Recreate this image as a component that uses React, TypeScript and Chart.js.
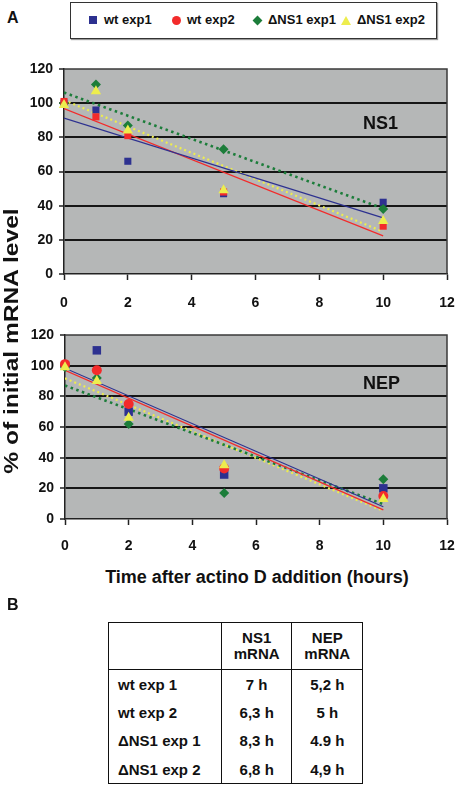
import React, { useEffect, useRef } from "react";
import { Chart, registerables } from "chart.js";

Chart.register(...registerables);

const FONT = "'Liberation Sans', Arial, Helvetica, sans-serif";

// ---- data ----
const hours = [0, 1, 2, 5, 10];
const seriesLabels = ["wt exp1", "wt exp2", "ΔNS1 exp1", "ΔNS1 exp2"];
const seriesColors = ["#2d3190", "#f32b2b", "#1c7d3a", "#eded4e"];

const ns1WtExp1 = [100, 96, 66, 47, 42];
const ns1WtExp2 = [101, 92, 81, 48, 28];
const ns1DeltaExp1 = [100, 111, 87, 73, 38];
const ns1DeltaExp2 = [99, 107, 84, 49, 31];

const nepWtExp1 = [100, 110, 70, 29, 20];
const nepWtExp2 = [101, 97, 75, 33, 15];
const nepDeltaExp1 = [99, 92, 62, 17, 26];
const nepDeltaExp2 = [99, 90, 66, 35, 13];

const xMin = 0;
const xMax = 12;
const xStep = 2;
const yMin = 0;
const yMax = 120;
const yStep = 20;

const tableHeaders = ["NS1\nmRNA", "NEP\nmRNA"];
const tableRowLabels = ["wt exp 1", "wt exp 2", "ΔNS1 exp 1", "ΔNS1 exp 2"];
const ns1HalfLives = ["7 h", "6,3 h", "8,3 h", "6,8 h"];
const nepHalfLives = ["5,2 h", "5 h", "4.9 h", "4,9 h"];

function linearFit(xs: number[], ys: number[]) {
  const n = xs.length;
  const mx = xs.reduce((a, b) => a + b, 0) / n;
  const my = ys.reduce((a, b) => a + b, 0) / n;
  let sxy = 0;
  let sxx = 0;
  for (let i = 0; i < n; i++) {
    sxy += (xs[i] - mx) * (ys[i] - my);
    sxx += (xs[i] - mx) * (xs[i] - mx);
  }
  const slope = sxy / sxx;
  const intercept = my - slope * mx;
  const x0 = Math.min(...xs);
  const x1 = Math.max(...xs);
  return [
    { x: x0, y: intercept + slope * x0 },
    { x: x1, y: intercept + slope * x1 },
  ];
}

const plotFrame = {
  id: "plotFrame",
  beforeDraw(chart: any) {
    const { ctx, chartArea } = chart;
    const { left, top, right, bottom } = chartArea;
    ctx.save();
    ctx.fillStyle = "#b5b7b7";
    ctx.fillRect(left, top, right - left, bottom - top);
    ctx.restore();
  },
  afterDatasetsDraw(chart: any) {
    const { ctx, chartArea } = chart;
    const { left, top, right, bottom } = chartArea;
    ctx.save();
    ctx.strokeStyle = "#3a3a3a";
    ctx.lineWidth = 1.5;
    ctx.beginPath();
    ctx.moveTo(left, top);
    ctx.lineTo(right, top);
    ctx.lineTo(right, bottom);
    ctx.stroke();
    ctx.restore();
  },
};

type PanelProps = {
  series: number[][];
  pointStyles: string[];
  pointRadii: number[];
  top: number;
  height: number;
  padTop: number;
  padRight: number;
  yWidth: number;
  xHeight: number;
  xLabelPad: number;
};

function Panel(props: PanelProps) {
  const ref = useRef<HTMLCanvasElement | null>(null);
  useEffect(() => {
    if (!ref.current) return;
    const trendStyles = [
      { dash: [], width: 1.2 },
      { dash: [], width: 1.2 },
      { dash: [2.5, 3.5], width: 2.6 },
      { dash: [2, 3], width: 2.2 },
    ];
    const markerOrder = [4, 2, 3, 1];
    const datasets: any[] = [];
    props.series.forEach((ys, i) => {
      datasets.push({
        type: "line",
        label: seriesLabels[i] + " trend",
        data: linearFit(hours, ys),
        borderColor: seriesColors[i],
        borderWidth: trendStyles[i].width,
        borderDash: trendStyles[i].dash,
        borderCapStyle: "butt",
        pointRadius: 0,
        fill: false,
        order: 10 + i,
      });
    });
    props.series.forEach((ys, i) => {
      datasets.push({
        type: "scatter",
        label: seriesLabels[i],
        data: hours.map((h, k) => ({ x: h, y: ys[k] })),
        backgroundColor: seriesColors[i],
        borderColor: seriesColors[i],
        borderWidth: 0,
        pointStyle: props.pointStyles[i],
        pointRadius: props.pointRadii[i],
        order: markerOrder[i],
        clip: false,
      });
    });
    const tickFont = { family: FONT, size: 14, weight: "bold" as const };
    const chart = new Chart(ref.current, {
      type: "scatter",
      data: { datasets },
      options: {
        animation: false,
        responsive: false,
        devicePixelRatio: 1,
        layout: { padding: { top: props.padTop, right: props.padRight, left: 0, bottom: 0 } },
        plugins: { legend: { display: false }, tooltip: { enabled: false } },
        scales: {
          x: {
            type: "linear",
            min: xMin,
            max: xMax,
            ticks: { stepSize: xStep, font: tickFont, color: "#111", padding: props.xLabelPad, maxRotation: 0 },
            grid: { drawOnChartArea: false, drawTicks: true, tickLength: 6, tickColor: "#222", tickWidth: 1.5 },
            border: { color: "#222", width: 1.5 },
            afterFit: (s: any) => {
              s.height = props.xHeight;
              s.paddingLeft = 0;
              s.paddingRight = 0;
            },
          },
          y: {
            type: "linear",
            min: yMin,
            max: yMax,
            ticks: { stepSize: yStep, font: tickFont, color: "#111", padding: 6 },
            grid: {
              color: (c: any) =>
                c.tick && (c.tick.value === yMin || c.tick.value === yMax) ? "rgba(0,0,0,0)" : "#161616",
              lineWidth: 2,
              drawTicks: true,
              tickLength: 5,
              tickColor: "#222",
              tickWidth: 1.5,
            },
            border: { color: "#222", width: 1.5 },
            afterFit: (s: any) => {
              s.width = props.yWidth;
              s.paddingTop = 0;
              s.paddingBottom = 0;
            },
          },
        },
      },
      plugins: [plotFrame],
    } as any);
    return () => chart.destroy();
  }, []);
  return (
    <canvas
      ref={ref}
      width={457}
      height={props.height}
      style={{ position: "absolute", left: 0, top: props.top, width: 457, height: props.height, display: "block" }}
    />
  );
}

function Marker({ kind, color }: { kind: string; color: string }) {
  if (kind === "rect") return <span style={{ display: "inline-block", width: 8, height: 8, background: color }} />;
  if (kind === "circle")
    return <span style={{ display: "inline-block", width: 9, height: 9, borderRadius: "50%", background: color }} />;
  if (kind === "rectRot")
    return (
      <span
        style={{ display: "inline-block", width: 7, height: 7, background: color, transform: "rotate(45deg)" }}
      />
    );
  return (
    <span
      style={{
        display: "inline-block",
        width: 0,
        height: 0,
        borderLeft: "5px solid transparent",
        borderRight: "5px solid transparent",
        borderBottom: "9px solid " + color,
      }}
    />
  );
}

const legendMarkers = ["rect", "circle", "rectRot", "triangle"];
const legendMarkerX = [92, 175, 256, 345];
const legendTextX = [103, 186, 267, 356];

export default function App() {
  useEffect(() => {
    document.body.style.margin = "0";
  }, []);
  const bold = { fontFamily: FONT, fontWeight: "bold" as const, color: "#111" };
  return (
    <div style={{ position: "relative", width: 457, height: 787, background: "#fff", overflow: "hidden" }}>
      <div style={{ ...bold, position: "absolute", left: 7, top: 9, fontSize: 16 }}>A</div>
      <div
        style={{
          position: "absolute",
          left: 70,
          top: 2,
          width: 367,
          height: 37,
          boxSizing: "border-box",
          border: "1.5px solid #333",
          boxShadow: "1px 1px 1px #999",
        }}
      >
        {seriesLabels.map((lab, i) => (
          <React.Fragment key={lab}>
            <div
              style={{
                position: "absolute",
                left: legendMarkerX[i] - 70 - 5,
                top: 12,
                width: 10,
                height: 10,
                display: "flex",
                alignItems: "center",
                justifyContent: "center",
              }}
            >
              <Marker kind={legendMarkers[i]} color={seriesColors[i]} />
            </div>
            <div style={{ ...bold, position: "absolute", left: legendTextX[i] - 70, top: 9, fontSize: 13, whiteSpace: "nowrap" }}>
              {lab}
            </div>
          </React.Fragment>
        ))}
      </div>

      <Panel
        series={[ns1WtExp1, ns1WtExp2, ns1DeltaExp1, ns1DeltaExp2]}
        pointStyles={["rect", "rect", "rectRot", "triangle"]}
        pointRadii={[5, 5, 5, 6]}
        top={50}
        height={260}
        padTop={19}
        padRight={10}
        yWidth={64}
        xHeight={36}
        xLabelPad={15}
      />
      <Panel
        series={[nepWtExp1, nepWtExp2, nepDeltaExp1, nepDeltaExp2]}
        pointStyles={["rect", "circle", "rectRot", "triangle"]}
        pointRadii={[6, 5, 5, 6]}
        top={318}
        height={240}
        padTop={17}
        padRight={10}
        yWidth={65}
        xHeight={39}
        xLabelPad={13}
      />

      <div style={{ ...bold, position: "absolute", left: 363, top: 113, fontSize: 18 }}>NS1</div>
      <div style={{ ...bold, position: "absolute", left: 363, top: 373, fontSize: 18 }}>NEP</div>

      <div
        style={{
          ...bold,
          position: "absolute",
          left: 11,
          top: 341,
          fontSize: 21,
          whiteSpace: "nowrap",
          transform: "translate(-50%, -50%) rotate(-90deg) scaleX(1.17)",
        }}
      >
        % of initial mRNA level
      </div>
      <div style={{ ...bold, position: "absolute", left: 257, top: 577, fontSize: 18, whiteSpace: "nowrap", transform: "translate(-50%, -50%)" }}>
        Time after actino D addition (hours)
      </div>

      <div style={{ ...bold, position: "absolute", left: 7, top: 596, fontSize: 16 }}>B</div>
      <table
        style={{
          ...bold,
          position: "absolute",
          left: 108,
          top: 622,
          width: 255,
          height: 161,
          borderCollapse: "collapse",
          border: "1.5px solid #111",
          fontSize: 15,
        }}
      >
        <tbody>
          <tr style={{ height: 47 }}>
            <td style={{ width: 112, borderRight: "1.5px solid #111", borderBottom: "1.5px solid #111" }} />
            {tableHeaders.map((h) => (
              <td
                key={h}
                style={{
                  width: 72,
                  textAlign: "center",
                  borderRight: "1.5px solid #111",
                  borderBottom: "1.5px solid #111",
                  whiteSpace: "pre-line",
                  lineHeight: "16px",
                  padding: 0,
                }}
              >
                {h}
              </td>
            ))}
          </tr>
          {tableRowLabels.map((r, i) => (
            <tr key={r} style={{ height: 28.5 }}>
              <td style={{ paddingLeft: 9, borderRight: "1.5px solid #111", whiteSpace: "nowrap" }}>{r}</td>
              <td style={{ textAlign: "center", borderRight: "1.5px solid #111" }}>{ns1HalfLives[i]}</td>
              <td style={{ textAlign: "center" }}>{nepHalfLives[i]}</td>
            </tr>
          ))}
        </tbody>
      </table>
    </div>
  );
}
